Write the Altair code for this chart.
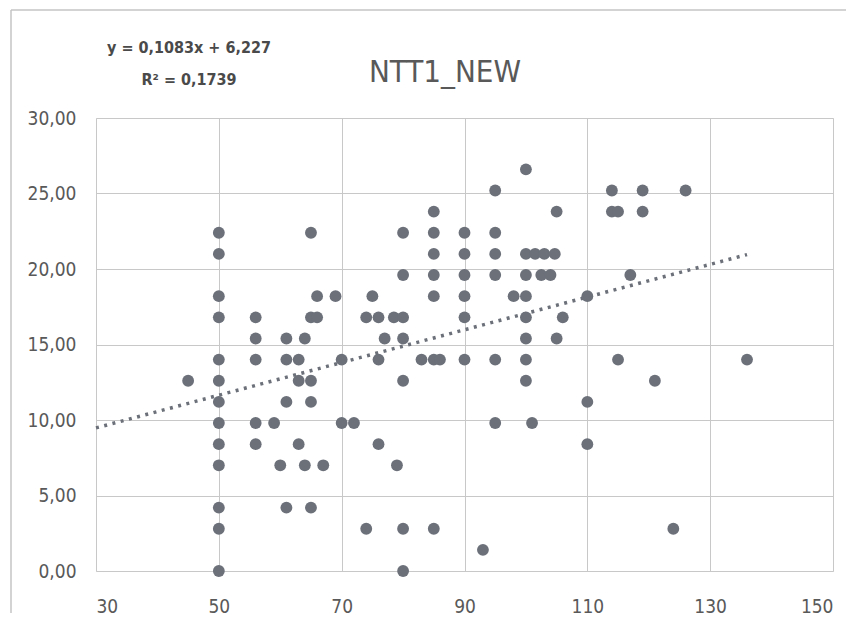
import altair as alt
import pandas as pd

# ---- data ----
x_vals = [
    45,
    50, 50, 50, 50, 50, 50, 50, 50, 50, 50, 50, 50, 50,
    56, 56, 56, 56, 56,
    59, 60,
    61, 61, 61, 61,
    63, 63, 63,
    64, 64,
    65, 65, 65, 65, 65,
    66, 66, 67, 69,
    70, 70, 72,
    74, 74, 75,
    76, 76, 76, 77,
    78.5, 79,
    80, 80, 80, 80, 80, 80, 80,
    83,
    85, 85, 85, 85, 85, 85, 85,
    86,
    90, 90, 90, 90, 90, 90,
    93,
    95, 95, 95, 95, 95, 95,
    98,
    100, 100, 100, 100, 100, 100, 100, 100,
    101, 101.5, 102.5, 103, 104, 104.7,
    105, 105, 106,
    110, 110, 110,
    114, 114, 115, 115, 117, 119, 119, 121, 124, 126, 136,
]
y_vals = [
    12.6,
    22.4, 21.0, 18.2, 16.8, 14.0, 12.6, 11.2, 9.8, 8.4, 7.0, 4.2, 2.8, 0.0,
    16.8, 15.4, 14.0, 9.8, 8.4,
    9.8, 7.0,
    15.4, 14.0, 11.2, 4.2,
    14.0, 12.6, 8.4,
    15.4, 7.0,
    22.4, 16.8, 12.6, 11.2, 4.2,
    18.2, 16.8, 7.0, 18.2,
    14.0, 9.8, 9.8,
    16.8, 2.8, 18.2,
    16.8, 14.0, 8.4, 15.4,
    16.8, 7.0,
    22.4, 19.6, 16.8, 15.4, 12.6, 2.8, 0.0,
    14.0,
    23.8, 22.4, 21.0, 19.6, 18.2, 14.0, 2.8,
    14.0,
    22.4, 21.0, 19.6, 18.2, 16.8, 14.0,
    1.4,
    25.2, 22.4, 21.0, 19.6, 14.0, 9.8,
    18.2,
    26.6, 21.0, 19.6, 18.2, 16.8, 15.4, 14.0, 12.6,
    9.8, 21.0, 19.6, 21.0, 19.6, 21.0,
    23.8, 15.4, 16.8,
    18.2, 11.2, 8.4,
    25.2, 23.8, 23.8, 14.0, 19.6, 25.2, 23.8, 12.6, 2.8, 25.2, 14.0,
]

title_text = "NTT1_NEW"
eq_line1 = "y = 0,1083x  + 6,227"
eq_line2 = "R\u00b2 = 0,1739"
slope = 0.1083
intercept = 6.227
trend_x = [30, 136]

x_ticks = [30, 50, 70, 90, 110, 130, 150]
y_ticks = [0, 5, 10, 15, 20, 25, 30]

points = pd.DataFrame({"x": x_vals, "y": y_vals})
trend = pd.DataFrame({"x": trend_x, "y": [slope * v + intercept for v in trend_x]})

PT = "#6b7079"
LBL = "#595959"
GRID = "#c8c8c8"
FRAME = "#c4c4c4"
FONT = "DejaVu Sans Condensed, Liberation Sans Narrow, DejaVu Sans"

xs = alt.Scale(domain=[30, 150], nice=False)
ys = alt.Scale(domain=[0, 30], nice=False)

x_axis = alt.Axis(values=x_ticks, title=None, grid=True, gridColor=GRID, domain=False,
                  ticks=False, labelPadding=26, labelFontSize=19, labelColor=LBL,
                  labelFont=FONT)
y_axis = alt.Axis(values=y_ticks, title=None, grid=True, gridColor=GRID, domain=False,
                  ticks=False, labelPadding=20, labelFontSize=19, labelColor=LBL,
                  labelFont=FONT,
                  labelExpr="replace(format(datum.value, '.2f'), '.', ',')")

one = alt.Data(values=[{"k": 1}])

# outer chart frame: top and left edges only
frame_top = alt.Chart(one).mark_rule(color=FRAME, strokeWidth=1.5).encode(
    x=alt.value(-85), x2=alt.value(750), y=alt.value(-108)
)
frame_left = alt.Chart(one).mark_rule(color=FRAME, strokeWidth=1.5).encode(
    x=alt.value(-85), y=alt.value(-108), y2=alt.value(495)
)

line = alt.Chart(trend).mark_line(color=PT, strokeWidth=3.5, strokeDash=[3, 5.5]).encode(
    x=alt.X("x:Q", scale=xs, axis=x_axis),
    y=alt.Y("y:Q", scale=ys, axis=y_axis),
)

dots = alt.Chart(points).mark_circle(color=PT, size=140, opacity=1).encode(
    x=alt.X("x:Q", scale=xs),
    y=alt.Y("y:Q", scale=ys),
)

title = alt.Chart(alt.Data(values=[{"t": title_text}])).mark_text(
    font=FONT, fontSize=31, color=LBL, align="center", baseline="alphabetic"
).encode(x=alt.value(349), y=alt.value(-36), text="t:N")

eq1 = alt.Chart(alt.Data(values=[{"t": eq_line1}])).mark_text(
    font=FONT, fontSize=16, fontWeight="bold", color="#4a4a4a", align="center", baseline="alphabetic"
).encode(x=alt.value(93), y=alt.value(-65), text="t:N")

eq2 = alt.Chart(alt.Data(values=[{"t": eq_line2}])).mark_text(
    font=FONT, fontSize=16, fontWeight="bold", color="#4a4a4a", align="center", baseline="alphabetic"
).encode(x=alt.value(93), y=alt.value(-33), text="t:N")

chart = alt.layer(frame_top, frame_left, line, dots, title, eq1, eq2).properties(
    width=737, height=453,
    autosize=alt.AutoSizeParams(type="none"),
    padding={"left": 88, "top": 110, "right": 22, "bottom": 48},
).configure_view(stroke=None).configure(background="white")

chart.save("out.html", embed_options={"renderer": "svg", "actions": False})
